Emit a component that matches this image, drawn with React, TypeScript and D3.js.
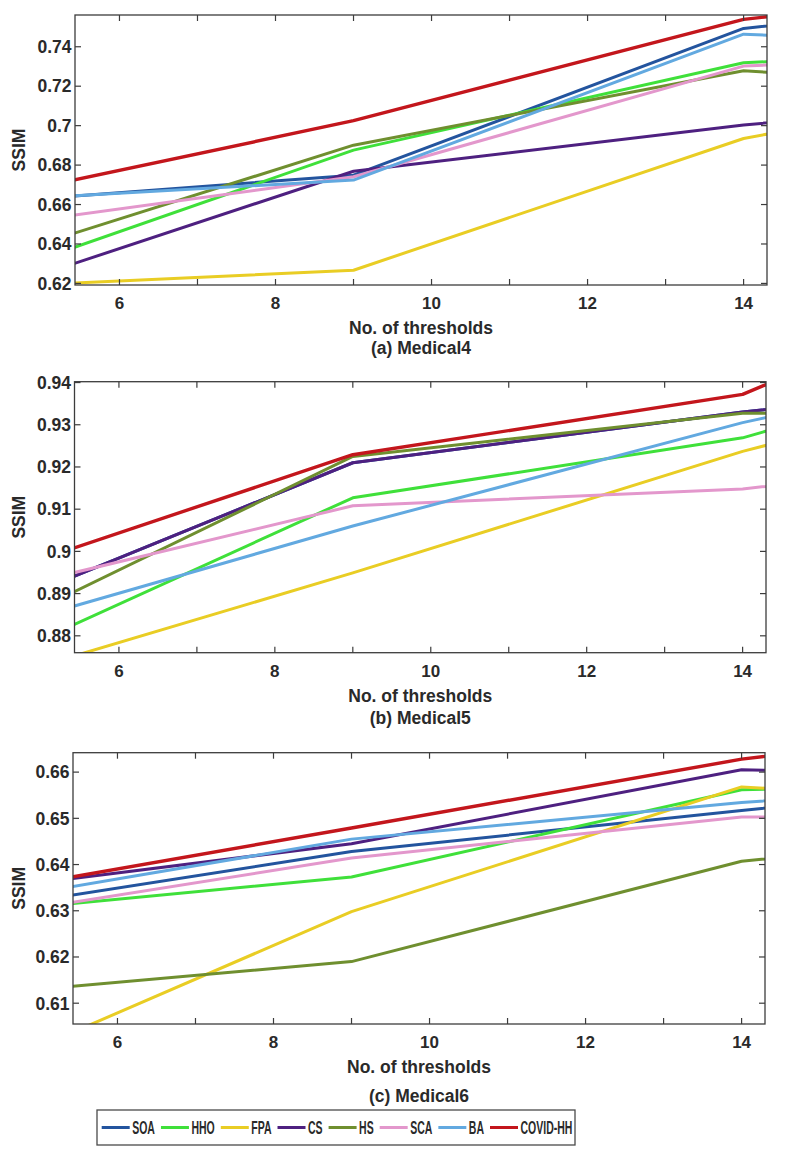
import React from "react";
import * as d3 from "d3";

// ---------- DATA ----------
const thresholds = [5, 9, 14, 15];
const algorithms = ["SOA", "HHO", "FPA", "CS", "HS", "SCA", "BA", "COVID-HH"];

// values per algorithm (same order as `algorithms`), one entry per threshold
const medical4Values = [
  [0.6631, 0.6749, 0.7493, 0.7533], // SOA
  [0.6325, 0.6876, 0.7319, 0.7336], // HHO
  [0.6195, 0.6267, 0.6935, 0.7008], // FPA
  [0.6246, 0.6769, 0.7003, 0.704], // CS
  [0.6402, 0.6901, 0.7278, 0.7255], // HS
  [0.6523, 0.6741, 0.7302, 0.7319], // SCA
  [0.6635, 0.6724, 0.7464, 0.7447], // BA
  [0.6689, 0.7025, 0.7539, 0.7582], // COVID-HH
];
const medical5Values = [
  [0.8909, 0.921, 0.933, 0.935],
  [0.8791, 0.9127, 0.9269, 0.9322],
  [0.8729, 0.8949, 0.9237, 0.9284],
  [0.8909, 0.921, 0.933, 0.935],
  [0.8866, 0.9225, 0.9327, 0.9327],
  [0.8931, 0.9108, 0.9148, 0.9168],
  [0.8848, 0.906, 0.9305, 0.9345],
  [0.8982, 0.9229, 0.9372, 0.9449],
];
const medical6Values = [
  [0.6323, 0.6428, 0.6517, 0.6534],
  [0.6309, 0.6373, 0.6562, 0.6565],
  [0.6006, 0.6298, 0.6568, 0.6558],
  [0.6361, 0.6445, 0.6605, 0.6601],
  [0.613, 0.619, 0.6407, 0.6424],
  [0.6307, 0.6414, 0.6503, 0.6503],
  [0.634, 0.6455, 0.6534, 0.6547],
  [0.6361, 0.6479, 0.6628, 0.6648],
];

const xTicks = [6, 7, 8, 9, 10, 11, 12, 13, 14];
const xTickLabels = [6, 8, 10, 12, 14];
const medical4YTicks = [0.62, 0.64, 0.66, 0.68, 0.7, 0.72, 0.74];
const medical5YTicks = [0.88, 0.89, 0.9, 0.91, 0.92, 0.93, 0.94];
const medical6YTicks = [0.61, 0.62, 0.63, 0.64, 0.65, 0.66];
const panelTitles = ["(a) Medical4", "(b) Medical5", "(c) Medical6"];

// ---------- STYLE / LAYOUT ----------
const colors = ["#23549e", "#3fe03a", "#e9cd24", "#4e2080", "#6f8f2f", "#e397cc", "#62a9e0", "#c3161c"];
const FONT = '"Liberation Sans", Arial, Helvetica, sans-serif';
const TEXT = "#2a2a2a";
const xDomain = [5.43, 14.3];

const layouts = [
  { left: 75, right: 767, top: 15, bottom: 285, yDomain: [0.6192, 0.7561], values: medical4Values, yTicks: medical4YTicks, titleDy: 69 },
  { left: 74.5, right: 766, top: 381.7, bottom: 652.7, yDomain: [0.876, 0.9402], values: medical5Values, yTicks: medical5YTicks, titleDy: 71 },
  { left: 73, right: 765, top: 752.7, bottom: 1024, yDomain: [0.6055, 0.6642], values: medical6Values, yTicks: medical6YTicks, titleDy: 78 },
];

function fmt(v: number) {
  return String(+v.toFixed(2));
}

function Panel({ idx }: { idx: number }) {
  const L = layouts[idx];
  const x = d3.scaleLinear().domain(xDomain).range([L.left, L.right]);
  const y = d3.scaleLinear().domain(L.yDomain).range([L.bottom, L.top]);
  const line = d3
    .line<number>()
    .x((_, i) => x(thresholds[i]))
    .y((d) => y(d));
  const clipId = `clip${idx}`;
  const tl = 6;
  const cx = (L.left + L.right) / 2;
  return (
    <g>
      <defs>
        <clipPath id={clipId}>
          <rect x={L.left} y={L.top} width={L.right - L.left} height={L.bottom - L.top} />
        </clipPath>
      </defs>
      <g clipPath={`url(#${clipId})`}>
        {L.values.map((vals, k) => (
          <path
            key={algorithms[k]}
            d={line(vals) || ""}
            fill="none"
            stroke={colors[k]}
            strokeWidth={k === 7 ? 3.4 : 3}
            strokeLinejoin="round"
          />
        ))}
      </g>
      <rect
        x={L.left}
        y={L.top}
        width={L.right - L.left}
        height={L.bottom - L.top}
        fill="none"
        stroke="#3c3c3c"
        strokeWidth={1.3}
      />
      {xTicks.map((t) => (
        <g key={"xt" + t}>
          <line x1={x(t)} x2={x(t)} y1={L.bottom} y2={L.bottom - tl} stroke="#3c3c3c" strokeWidth={1.2} />
          <line x1={x(t)} x2={x(t)} y1={L.top} y2={L.top + tl} stroke="#3c3c3c" strokeWidth={1.2} />
        </g>
      ))}
      {xTickLabels.map((t) => (
        <text
          key={"xl" + t}
          x={x(t)}
          y={L.bottom + 24}
          textAnchor="middle"
          fontFamily={FONT}
          fontWeight="bold"
          fontSize={17}
          fill={TEXT}
        >
          {t}
        </text>
      ))}
      {L.yTicks.map((t) => (
        <g key={"yt" + t}>
          <line x1={L.left} x2={L.left + tl} y1={y(t)} y2={y(t)} stroke="#3c3c3c" strokeWidth={1.2} />
          <line x1={L.right} x2={L.right - tl} y1={y(t)} y2={y(t)} stroke="#3c3c3c" strokeWidth={1.2} />
          <text
            x={L.left - 3.5}
            y={y(t)}
            dy="0.36em"
            textAnchor="end"
            fontFamily={FONT}
            fontWeight="bold"
            fontSize={17.5}
            fill={TEXT}
          >
            {fmt(t)}
          </text>
        </g>
      ))}
      <text
        transform={`translate(25,${(L.top + L.bottom) / 2}) rotate(-90)`}
        textAnchor="middle"
        fontFamily={FONT}
        fontWeight="bold"
        fontSize={17.5}
        fill={TEXT}
      >
        SSIM
      </text>
      <text
        x={cx}
        y={L.bottom + 49}
        textAnchor="middle"
        fontFamily={FONT}
        fontWeight="bold"
        fontSize={17.5}
        fill={TEXT}
      >
        No. of thresholds
      </text>
      <text
        x={cx}
        y={L.bottom + L.titleDy}
        textAnchor="middle"
        fontFamily={FONT}
        fontWeight="bold"
        fontSize={17.5}
        fill={TEXT}
      >
        {panelTitles[idx]}
      </text>
    </g>
  );
}

function measure(s: string, font: string) {
  const c = document.createElement("canvas").getContext("2d");
  if (!c) return s.length * 9;
  c.font = font;
  return c.measureText(s).width;
}

function Legend() {
  const fontSize = 17.5;
  const squeeze = 0.6;
  const boxX = 97, boxY = 1110, boxW = 478, boxH = 35;
  const midY = boxY + boxH / 2;
  let cur = 101.7;
  const items = algorithms.map((name, k) => {
    const w = measure(name, `bold ${fontSize}px ${FONT}`) * squeeze;
    const lx = cur;
    const tx = cur + 30.5;
    cur = tx + w + 6;
    return { name, k, lx, tx, w };
  });
  return (
    <g>
      <rect x={boxX} y={boxY} width={boxW} height={boxH} fill="#fff" stroke="#4a4a4a" strokeWidth={1.3} />
      {items.map((it) => (
        <g key={it.name}>
          <line x1={it.lx} x2={it.lx + 28} y1={midY} y2={midY} stroke={colors[it.k]} strokeWidth={3} />
          <text
            x={it.tx}
            y={midY}
            dy="0.36em"
            fontFamily={FONT}
            fontWeight="bold"
            fontSize={fontSize}
            fill={TEXT}
            textLength={it.w}
            lengthAdjust="spacingAndGlyphs"
          >
            {it.name}
          </text>
        </g>
      ))}
    </g>
  );
}

export default function App() {
  return (
    <svg
      width={789}
      height={1153}
      viewBox="0 0 789 1153"
      style={{ position: "absolute", left: 0, top: 0, display: "block", background: "#fff" }}
    >
      <rect x={0} y={0} width={789} height={1153} fill="#fff" />
      {layouts.map((_, i) => (
        <Panel key={i} idx={i} />
      ))}
      <Legend />
    </svg>
  );
}
